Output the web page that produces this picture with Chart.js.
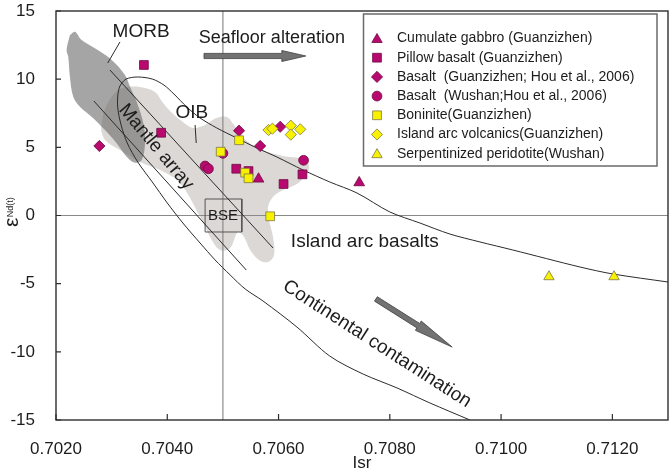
<!DOCTYPE html>
<html><head><meta charset="utf-8">
<script src="https://cdn.jsdelivr.net/npm/chart.js@4/dist/chart.umd.min.js"></script>
<style>html,body{margin:0;padding:0;background:#fff;}canvas{display:block;}</style>
</head><body>
<canvas id="c" width="669" height="472"></canvas>
<script>
// ---------- axis ticks ----------
const xTicks = [0.7020, 0.7040, 0.7060, 0.7080, 0.7100, 0.7120];
const yTicks = [-15, -10, -5, 0, 5, 10, 15];

// ---------- samples: [Isr, eNd(t)] ----------
const cumulateGabbro = [[0.70564, 2.68], [0.70745, 2.41]];
const pillowBasalt = [[0.70358, 11.04], [0.70389, 6.07], [0.70524, 3.43], [0.70546, 3.26], [0.70609, 2.31], [0.70643, 3.02]];
const basaltGuanzizhen = [[0.70278, 5.10], [0.70529, 6.22], [0.70567, 5.10], [0.70603, 6.51]];
const basaltWushan = [[0.70500, 4.56], [0.70468, 3.63], [0.70474, 3.43], [0.70645, 4.05]];
const boninite = [[0.70529, 5.52], [0.70496, 4.68], [0.70540, 3.14], [0.70546, 2.73], [0.70585, -0.06]];
const islandArcVolcanics = [[0.70582, 6.27], [0.70589, 6.37], [0.70622, 6.59], [0.70639, 6.32], [0.70622, 5.93]];
const serpentinite = [[0.71086, -4.49], [0.71203, -4.49]];

// ---------- reference fields and curves ----------
const morbField = [[0.70225,13.24],[0.70234,13.48],[0.70246,12.87],[0.70270,12.26],[0.70300,11.41],[0.70324,10.31],[0.70333,9.45],[0.70345,8.35],[0.70357,6.76],[0.70360,5.30],[0.70354,4.07],[0.70342,3.87],[0.70327,4.31],[0.70309,5.30],[0.70288,6.27],[0.70264,7.25],[0.70243,7.98],[0.70231,8.71],[0.70225,10.18],[0.70222,11.65],[0.70219,12.14],[0.70225,13.24]];
const oibArcField = [[0.70281,6.27],[0.70286,7.59],[0.70301,8.77],[0.70319,9.35],[0.70351,9.43],[0.70378,9.06],[0.70391,8.33],[0.70405,7.67],[0.70426,6.93],[0.70446,6.42],[0.70468,6.64],[0.70488,7.15],[0.70507,7.22],[0.70520,6.64],[0.70543,5.46],[0.70572,4.80],[0.70608,4.36],[0.70644,4.14],[0.70655,3.63],[0.70649,2.97],[0.70633,2.31],[0.70608,1.87],[0.70590,1.36],[0.70581,0.62],[0.70583,-0.33],[0.70590,-1.58],[0.70592,-2.90],[0.70581,-3.41],[0.70565,-3.26],[0.70549,-2.53],[0.70538,-1.58],[0.70527,-1.21],[0.70513,-2.38],[0.70495,-2.53],[0.70480,-1.80],[0.70459,-0.11],[0.70423,2.38],[0.70387,3.34],[0.70351,3.92],[0.70315,4.80],[0.70288,5.54],[0.70281,6.27]];
const mantleArrayUpper = [[0.70297,10.67],[0.70590,-2.38]];
const mantleArrayLower = [[0.70268,8.40],[0.70542,-4.00]];
const arcContaminationCurve = [[0.7130,-4.88],[0.71201,-4.29],[0.71142,-3.78],[0.71021,-2.53],[0.70962,-1.94],[0.70908,-1.36],[0.70854,-0.55],[0.70800,0.26],[0.70741,1.65],[0.70692,2.46],[0.70644,3.34],[0.70597,4.29],[0.70561,4.95],[0.70525,5.68],[0.70489,6.42],[0.70459,7.15],[0.70435,7.96],[0.70412,8.91],[0.70394,9.57],[0.70373,10.01],[0.70347,10.16],[0.70326,10.01],[0.70315,9.50],[0.70311,8.77],[0.70311,7.89],[0.70317,6.64],[0.70328,5.32],[0.70347,3.92],[0.70373,2.46],[0.70400,0.92],[0.70428,-0.55],[0.70459,-2.02],[0.70486,-3.26],[0.70513,-4.36],[0.70540,-5.39],[0.70572,-6.27],[0.70633,-8.18],[0.70692,-10.31],[0.70752,-11.63],[0.70813,-12.65],[0.70872,-13.75],[0.70944,-15.0]];
const bseBox = [[0.70468,1.21],[0.70534,1.21],[0.70534,-1.21],[0.70468,-1.21],[0.70468,1.21]];
const morbLeader = [[0.70315,12.73],[0.70293,11.19]];
const oibLeader = [[0.70450,6.64],[0.70452,5.32]];
const refLineX = [[0.7050,-15],[0.7050,15]];
const refLineY = [[0.7020,0],[0.7130,0]];

// ---------- annotation anchors (data units) ----------
const noteText = ['MORB','Seafloor alteration','OIB','Mantle array','BSE','Island arc basalts','Continental contamination'];
const noteIsr  = [0.70353, 0.70588, 0.70444, 0.70380, 0.70500, 0.70755, 0.70777];
const noteENd  = [13.50, 13.02, 7.52, 5.02, 0.0, -1.94, -9.43];
const arrowFrom = [[0.70466,11.70],[0.70775,-6.12]];
const arrowTo   = [[0.70649,11.70],[0.70912,-9.65]];

// ---------- styling ----------
const FONT = "'Liberation Sans', Arial, Helvetica, sans-serif";
const MAG = '#b8096f', MAG_EDGE = '#6e0843';
const YEL = '#f8f200', YEL_EDGE = '#7d7645';
const noteSize = [19, 18, 19, 19, 15, 19, 19];
const noteRot  = [0, 0, 0, 50, 0, 0, 32.7];
const arrowHead = [24, 40];

const pts = a => a.map(([x, y]) => ({x, y}));
const lineDS = (data, extra) => Object.assign({
  type: 'line', data: pts(data), pointRadius: 0, pointHoverRadius: 0,
  borderColor: '#2b2b2b', borderWidth: 1, fill: false, tension: 0, order: 50
}, extra);
const ptDS = (label, data, style, radius, fill, edge, order) => ({
  type: 'scatter', label, data: pts(data), pointStyle: style, pointRadius: radius,
  pointHoverRadius: radius, backgroundColor: fill, borderColor: edge, borderWidth: 0.8, order
});

const legendItems = [
  {label: 'Cumulate gabbro (Guanzizhen)', style: 'triangle', r: 6, fill: MAG, edge: MAG_EDGE},
  {label: 'Pillow basalt (Guanzizhen)', style: 'rect', r: 6.2, fill: MAG, edge: MAG_EDGE},
  {label: 'Basalt  (Guanzizhen; Hou et al., 2006)', style: 'rectRot', r: 5.6, fill: MAG, edge: MAG_EDGE},
  {label: 'Basalt  (Wushan;Hou et al., 2006)', style: 'circle', r: 4.9, fill: MAG, edge: MAG_EDGE},
  {label: 'Boninite(Guanzizhen)', style: 'rect', r: 6.2, fill: YEL, edge: YEL_EDGE},
  {label: 'Island arc volcanics(Guanzizhen)', style: 'rectRot', r: 5.6, fill: YEL, edge: YEL_EDGE},
  {label: 'Serpentinized peridotite(Wushan)', style: 'triangle', r: 6, fill: YEL, edge: YEL_EDGE}
];

const datasets = [
  ptDS(legendItems[0].label, cumulateGabbro, 'triangle', 6.2, MAG, MAG_EDGE, 10),
  ptDS(legendItems[1].label, pillowBasalt, 'rect', 6.2, MAG, MAG_EDGE, 10),
  ptDS(legendItems[2].label, basaltGuanzizhen, 'rectRot', 5.6, MAG, MAG_EDGE, 10),
  ptDS(legendItems[3].label, basaltWushan, 'circle', 4.9, MAG, MAG_EDGE, 10),
  ptDS(legendItems[4].label, boninite, 'rect', 6.2, YEL, YEL_EDGE, 5),
  ptDS(legendItems[5].label, islandArcVolcanics, 'rectRot', 5.6, YEL, YEL_EDGE, 5),
  ptDS(legendItems[6].label, serpentinite, 'triangle', 6, YEL, YEL_EDGE, 5),
  lineDS(mantleArrayUpper, {}),
  lineDS(mantleArrayLower, {}),
  lineDS(arcContaminationCurve, {tension: 0.3}),
  lineDS(morbLeader, {}),
  lineDS(oibLeader, {}),
  lineDS(bseBox, {borderColor: '#555', order: 55}),
  lineDS(refLineX, {borderColor: '#8a8a8a', borderWidth: 1.2, order: 60}),
  lineDS(refLineY, {borderColor: '#8a8a8a', borderWidth: 1.2, order: 60}),
  lineDS(morbField, {borderWidth: 0, fill: 'shape', backgroundColor: 'rgba(109,109,109,0.62)', tension: 0.35, order: 90}),
  lineDS(oibArcField, {borderWidth: 0, fill: 'shape', backgroundColor: '#dbd8d5', tension: 0.35, order: 100})
];

const decor = {
  id: 'decor',
  afterDatasetsDraw(chart) {
    const {ctx, chartArea: a} = chart;
    const X = v => chart.scales.x.getPixelForValue(v);
    const Y = v => chart.scales.y.getPixelForValue(v);
    ctx.save();
    // arrows
    arrowFrom.forEach((f, i) => {
      const x0 = X(f[0]), y0 = Y(f[1]), x1 = X(arrowTo[i][0]), y1 = Y(arrowTo[i][1]);
      const L = Math.hypot(x1 - x0, y1 - y0), ux = (x1 - x0) / L, uy = (y1 - y0) / L;
      const nx = -uy, ny = ux, w = 2.6, hw = 5.5, hx = x1 - ux * arrowHead[i], hy = y1 - uy * arrowHead[i];
      ctx.beginPath();
      ctx.moveTo(x0 + nx * w, y0 + ny * w);
      ctx.lineTo(hx + nx * w, hy + ny * w);
      ctx.lineTo(hx + nx * hw, hy + ny * hw);
      ctx.lineTo(x1, y1);
      ctx.lineTo(hx - nx * hw, hy - ny * hw);
      ctx.lineTo(hx - nx * w, hy - ny * w);
      ctx.lineTo(x0 - nx * w, y0 - ny * w);
      ctx.closePath();
      ctx.fillStyle = '#727272'; ctx.fill();
      ctx.strokeStyle = '#3f3f3f'; ctx.lineWidth = 0.8; ctx.stroke();
    });
    // notes
    ctx.fillStyle = '#1c1c1c';
    ctx.textAlign = 'center'; ctx.textBaseline = 'middle';
    noteText.forEach((t, i) => {
      ctx.save();
      ctx.translate(X(noteIsr[i]), Y(noteENd[i]));
      ctx.rotate(noteRot[i] * Math.PI / 180);
      ctx.font = noteSize[i] + 'px ' + FONT;
      ctx.fillText(t, 0, 0);
      ctx.restore();
    });
    // frame
    ctx.strokeStyle = '#2e2e2e'; ctx.lineWidth = 1.4;
    ctx.strokeRect(a.left, a.top, a.right - a.left, a.bottom - a.top);
    // inward ticks
    ctx.lineWidth = 1.2;
    ctx.beginPath();
    xTicks.forEach(v => { const x = X(v); ctx.moveTo(x, a.bottom); ctx.lineTo(x, a.bottom - 6); });
    yTicks.forEach(v => { const y = Y(v); ctx.moveTo(a.left, y); ctx.lineTo(a.left + 5, y); });
    ctx.stroke();
    ctx.restore();
  },
  afterDraw(chart) {
    const {ctx} = chart;
    ctx.save();
    // legend
    const L = 363.5, T = 14, W = 293.5, H = 152;
    ctx.fillStyle = '#fff'; ctx.fillRect(L, T, W, H);
    ctx.strokeStyle = '#6a6a6a'; ctx.lineWidth = 1.5; ctx.strokeRect(L, T, W, H);
    ctx.font = '14px ' + FONT; ctx.textAlign = 'left'; ctx.textBaseline = 'middle';
    legendItems.forEach((it, i) => {
      const y = 38.5 + i * 19.2;
      ctx.fillStyle = it.fill; ctx.strokeStyle = it.edge; ctx.lineWidth = 0.8;
      Chart.helpers.drawPoint(ctx, {pointStyle: it.style, radius: it.r, borderWidth: 0.8, rotation: 0}, 377, y + (it.style === 'triangle' ? 1 : 0));
      ctx.fillStyle = '#1c1c1c';
      ctx.fillText(it.label, 397, y);
    });
    // y-axis title  εNd(t)
    ctx.translate(18, 227); ctx.rotate(-Math.PI / 2);
    ctx.fillStyle = '#1c1c1c'; ctx.textBaseline = 'alphabetic';
    ctx.font = '21px ' + FONT; ctx.fillText('ε', 0, 0);
    const ew = ctx.measureText('ε').width;
    ctx.font = '9px ' + FONT; ctx.fillText('Nd(t)', ew + 0.5, -5.5);
    ctx.restore();
  }
};

new Chart(document.getElementById('c'), {
  type: 'scatter',
  data: {datasets},
  options: {
    responsive: false, animation: false, devicePixelRatio: 1, events: [],
    layout: {autoPadding: false, padding: {top: 11, right: 1, left: 0, bottom: 0}},
    plugins: {legend: {display: false}, tooltip: {enabled: false}},
    scales: {
      x: {
        type: 'linear', min: 0.7020, max: 0.7130,
        afterBuildTicks: s => { s.ticks = xTicks.map(v => ({value: v})); },
        afterFit: s => { s.height = 52; s.paddingLeft = 0; s.paddingRight = 0; },
        grid: {display: false}, border: {display: false},
        ticks: {padding: 11, color: '#1c1c1c', font: {size: 17, family: FONT}, callback: v => Number(v).toFixed(4), maxRotation: 0, autoSkip: false},
        title: {display: true, text: 'Isr', color: '#1c1c1c', font: {size: 17, family: FONT}, padding: {top: 0, bottom: -2}}
      },
      y: {
        type: 'linear', min: -15, max: 15,
        afterBuildTicks: s => { s.ticks = yTicks.map(v => ({value: v})); },
        afterFit: s => { s.width = 56; s.paddingTop = 0; s.paddingBottom = 0; s.paddingLeft = 0; s.paddingRight = 0; },
        grid: {display: false}, border: {display: false},
        ticks: {padding: 13, color: '#1c1c1c', font: {size: 17, family: FONT}, callback: v => String(v), autoSkip: false}
      }
    }
  },
  plugins: [decor]
});
</script>
</body></html>
